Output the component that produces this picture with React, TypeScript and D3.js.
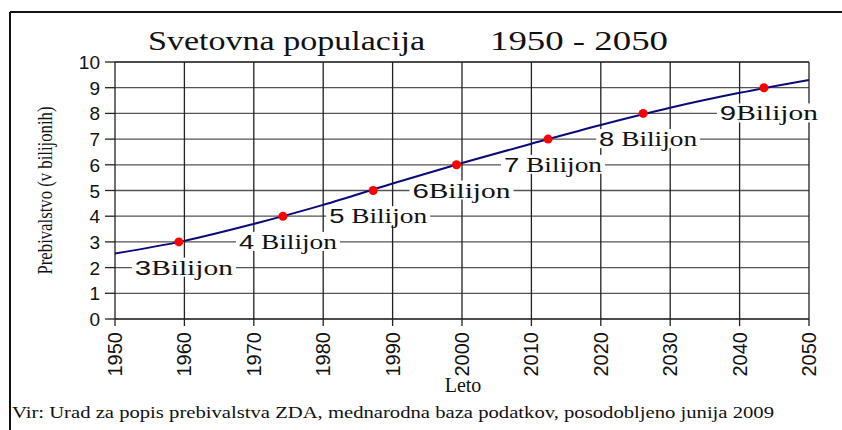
import React from "react";
import * as d3 from "d3";

const years = [1950, 1960, 1970, 1980, 1990, 2000, 2010, 2020, 2030, 2040, 2050];
const population = [2.55, 3.04, 3.7, 4.44, 5.27, 6.07, 6.82, 7.55, 8.22, 8.8, 9.3];
const milestoneYears = [1959.2, 1974.2, 1987.2, 1999.2, 2012.4, 2026.1, 2043.5];
const milestoneValues = [3, 4, 5, 6, 7, 8, 9];
const milestoneDigits = ["3", "4", "5", "6", "7", "8", "9"];
const milestoneWords = ["Bilijon", " Bilijon", " Bilijon", "Bilijon", " Bilijon", " Bilijon", "Bilijon"];
const yTicks = [0, 1, 2, 3, 4, 5, 6, 7, 8, 9, 10];
const xTicks = years;

const W = 842;
const H = 430;
const serif = "Liberation Serif, Times New Roman, serif";
const sans = "Liberation Sans, Arial, sans-serif";

export default function App() {
  const x = d3.scaleLinear().domain([1950, 2050]).range([115, 809]);
  const y = d3.scaleLinear().domain([0, 10]).range([319, 62]);
  const line = d3
    .line<number>()
    .x((_, i) => x(years[i]))
    .y((d) => y(d))
    .curve(d3.curveMonotoneX);

  return (
    <div style={{ position: "absolute", left: 0, top: 0 }}>
      <svg width={W} height={H} style={{ display: "block", background: "#fff" }}>
        {/* frame */}
        <line x1={10} y1={12} x2={W} y2={12} stroke="#111" strokeWidth={2} />
        <line x1={10} y1={12} x2={10} y2={H} stroke="#111" strokeWidth={2} />

        {/* title */}
        <text x={148} y={50} fontFamily={serif} fontSize={28} textLength={277} lengthAdjust="spacingAndGlyphs" fill="#111">
          Svetovna populacija
        </text>
        <text x={490} y={50} fontFamily={serif} fontSize={28} textLength={178} lengthAdjust="spacingAndGlyphs" fill="#111">
          1950 - 2050
        </text>

        {/* horizontal gridlines */}
        {yTicks.map((t) => (
          <g key={"h" + t}>
            <line
              x1={x(1950)}
              x2={x(2050)}
              y1={y(t)}
              y2={y(t)}
              stroke={t === 10 || t === 0 ? "#111" : "#555"}
              strokeWidth={1.3}
            />
            <line x1={x(1950) - 10} x2={x(1950)} y1={y(t)} y2={y(t)} stroke="#222" strokeWidth={1.3} />
            <text
              x={100}
              y={y(t) + 7}
              textAnchor="end"
              fontFamily={sans}
              fontSize={19}
              fill="#111"
            >
              {t}
            </text>
          </g>
        ))}

        {/* vertical gridlines */}
        {xTicks.map((t) => (
          <g key={"v" + t}>
            <line x1={x(t)} x2={x(t)} y1={y(10)} y2={y(0) + 7} stroke="#222" strokeWidth={1.3} />
            <text
              transform={`translate(${x(t) + 7},${y(0) + 13}) rotate(-90)`}
              textAnchor="end"
              fontFamily={sans}
              fontSize={20}
              fill="#111"
            >
              {t}
            </text>
          </g>
        ))}

        {/* curve */}
        <path d={line(population) || ""} fill="none" stroke="#0a0a78" strokeWidth={2} />

        {/* milestone labels */}
        {milestoneValues.map((v, i) => {
          const lx = x(milestoneYears[i]) - 44;
          const ly = y(v - 1);
          return (
            <g key={"l" + v}>
              <rect x={lx - 3} y={ly - 10} width={104} height={19} fill="#fff" />
              <text x={lx} y={ly + 7} fontFamily={serif} fontSize={20} textLength={98} lengthAdjust="spacingAndGlyphs" fill="#111">
                <tspan fontFamily={sans}>{milestoneDigits[i]}</tspan>
                {milestoneWords[i]}
              </text>
            </g>
          );
        })}

        {/* milestone points */}
        {milestoneValues.map((v, i) => (
          <circle key={"p" + v} cx={x(milestoneYears[i])} cy={y(v)} r={4.5} fill="#ff0000" />
        ))}

        {/* axis titles */}
        <text
          transform={`translate(52,${(y(0) + y(10)) / 2}) rotate(-90)`}
          textAnchor="middle"
          fontFamily={serif}
          fontSize={20}
          textLength={168}
          lengthAdjust="spacingAndGlyphs"
          fill="#111"
        >
          Prebivalstvo (v bilijonih)
        </text>
        <text x={463} y={392} textAnchor="middle" fontFamily={serif} fontSize={20} fill="#111">
          Leto
        </text>
        <text x={12} y={418} fontFamily={serif} fontSize={16} textLength={762} lengthAdjust="spacingAndGlyphs" fill="#111">
          Vir: Urad za popis prebivalstva ZDA, mednarodna baza podatkov, posodobljeno junija 2009
        </text>
      </svg>
    </div>
  );
}
